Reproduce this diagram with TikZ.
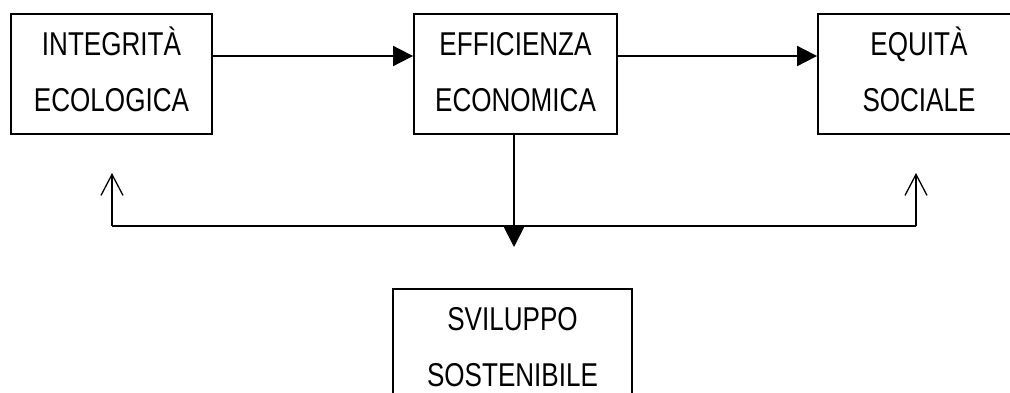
\documentclass[tikz,border=0pt]{standalone}
\usepackage{fontspec}
\setmainfont[FakeStretch=0.79]{Liberation Sans}
\usepackage{tikz}
\usetikzlibrary{arrows.meta}

\begin{document}
\begin{tikzpicture}[x=1pt, y=-1pt, line width=1.8pt,
		blocco/.style={draw, minimum height=120pt, inner sep=0pt, align=center,
			text height=81pt, text depth=7pt, font=\fontsize{33}{56}\selectfont},
		freccia/.style={-{Triangle[length=20pt,width=20pt]}},
		ritorno/.style={-{Straight Barb[length=21pt,width=22pt]}, line width=1.3pt}]
				\useasboundingbox (0,0) rectangle (1010,392);
				\clip (0,0) rectangle (1010,392);
				\node[blocco, minimum width=201pt] (ecol) at (111.5,74) {INTEGRITÀ\\ECOLOGICA};
				\node[blocco, minimum width=203pt] (econ) at (515.5,74) {EFFICIENZA\\ECONOMICA};
				\node[blocco, minimum width=202pt] (soc) at (919,74) {EQUITÀ\\SOCIALE};
				\node[blocco, minimum width=239pt] (svil) at (512.5,349) {SVILUPPO\\SOSTENIBILE};
				\coordinate (bussx) at (112,226);
				\coordinate (busdx) at (916,226);
				\coordinate (giu) at (514,247);
				\draw[freccia] (ecol.east |- 0,56) -- (econ.west |- 0,56);
				\draw[freccia] (econ.east |- 0,56) -- (soc.west |- 0,56);
				\draw (bussx) -- (busdx);
				\draw[freccia] (econ.south -| giu) -- (giu);
				\draw[ritorno] (bussx) -- ++(0,-53);
				\draw[ritorno] (busdx) -- ++(0,-53);
			\end{tikzpicture}
\end{document}
